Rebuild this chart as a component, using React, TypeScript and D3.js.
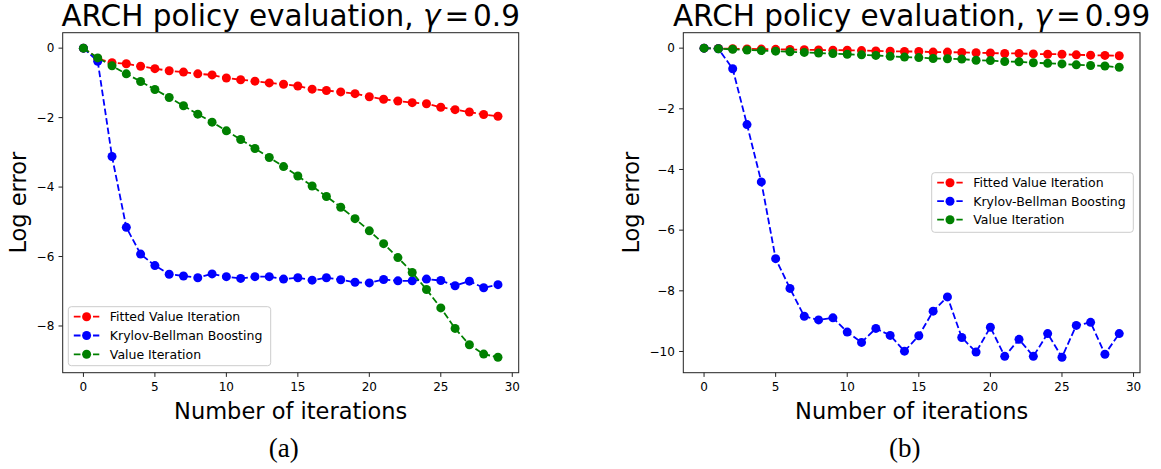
import React from "react";
import * as d3 from "d3";

const iterations = [0,1,2,3,4,5,6,7,8,9,10,11,12,13,14,15,16,17,18,19,20,21,22,23,24,25,26,27,28,29];
const seriesNames = ["Fitted Value Iteration", "Krylov-Bellman Boosting", "Value Iteration"];
const seriesColors = ["#ff0000", "#0000ff", "#008000"];

// Panel (a), gamma = 0.9
const fviA = [0,-0.30,-0.42,-0.45,-0.52,-0.59,-0.65,-0.69,-0.74,-0.77,-0.86,-0.91,-0.95,-1.00,-1.04,-1.09,-1.18,-1.22,-1.26,-1.31,-1.40,-1.47,-1.52,-1.57,-1.60,-1.70,-1.77,-1.84,-1.91,-1.96];
const kbbA = [0,-0.38,-3.12,-5.16,-5.93,-6.26,-6.51,-6.56,-6.61,-6.50,-6.58,-6.63,-6.58,-6.58,-6.65,-6.61,-6.68,-6.61,-6.67,-6.74,-6.76,-6.66,-6.70,-6.70,-6.65,-6.69,-6.84,-6.71,-6.90,-6.81];
const viA = [0,-0.28,-0.51,-0.74,-0.96,-1.19,-1.42,-1.66,-1.90,-2.13,-2.38,-2.63,-2.89,-3.15,-3.41,-3.68,-3.97,-4.27,-4.58,-4.91,-5.26,-5.63,-6.03,-6.46,-6.95,-7.48,-8.07,-8.54,-8.81,-8.90];

// Panel (b), gamma = 0.99
const fviB = [0,-0.01,-0.02,-0.025,-0.03,-0.04,-0.045,-0.05,-0.06,-0.065,-0.07,-0.08,-0.09,-0.10,-0.11,-0.11,-0.13,-0.13,-0.14,-0.15,-0.16,-0.175,-0.175,-0.19,-0.20,-0.20,-0.22,-0.23,-0.24,-0.25];
const kbbB = [0,-0.02,-0.68,-2.52,-4.41,-6.94,-7.92,-8.84,-8.96,-8.89,-9.36,-9.70,-9.24,-9.47,-9.99,-9.48,-8.67,-8.20,-9.54,-10.02,-9.20,-10.16,-9.60,-10.16,-9.41,-10.19,-9.14,-9.04,-10.09,-9.41];
const viB = [0,-0.02,-0.04,-0.06,-0.08,-0.10,-0.12,-0.14,-0.16,-0.18,-0.20,-0.22,-0.24,-0.27,-0.295,-0.31,-0.34,-0.35,-0.36,-0.40,-0.41,-0.44,-0.45,-0.48,-0.50,-0.52,-0.55,-0.57,-0.59,-0.63];

const xTicks = [0,5,10,15,20,25,30];
const yTicksA = [0,-2,-4,-6,-8];
const yTicksB = [0,-2,-4,-6,-8,-10];

const FONT = "DejaVu Sans";

type PanelProps = {
  x0: number; x1: number; y0: number; y1: number;
  data: number[][];
  yTicks: number[];
  gamma: string;
  caption: string;
  ylabelOffset: number;
  legend: { x: number; y: number; w: number; h: number; rowH: number };
};

function fmt(v: number) {
  return v < 0 ? "\u2212" + Math.abs(v) : String(v);
}

function Panel({ x0, x1, y0, y1, data, yTicks, gamma, caption, ylabelOffset, legend }: PanelProps) {
  const xMin = d3.min(iterations)!, xMax = d3.max(iterations)!;
  const xPad = (xMax - xMin) * 0.05;
  const all = data.flat();
  const yMin = d3.min(all)!, yMax = d3.max(all)!;
  const yPad = (yMax - yMin) * 0.05;
  const x = d3.scaleLinear().domain([xMin - xPad, xMax + xPad]).range([x0, x1]);
  const y = d3.scaleLinear().domain([yMin - yPad, yMax + yPad]).range([y1, y0]);
  const line = d3.line<number>().x((_, i) => x(iterations[i])).y((d) => y(d));
  const cx = (x0 + x1) / 2;
  const cy = (y0 + y1) / 2;
  const tickLen = 4.2;
  return (
    <g>
      {data.map((vals, si) => (
        <g key={si}>
          <path d={line(vals) || ""} fill="none" stroke={seriesColors[si]} strokeWidth={1.8} strokeDasharray="6.7,2.9" />
          {vals.map((v, i) => (
            <circle key={i} cx={x(iterations[i])} cy={y(v)} r={4.5} fill={seriesColors[si]} />
          ))}
        </g>
      ))}
      <rect x={x0} y={y0} width={x1 - x0} height={y1 - y0} fill="none" stroke="#222" strokeWidth={1} />
      {xTicks.map((t) => (
        <g key={t}>
          <line x1={x(t)} x2={x(t)} y1={y1} y2={y1 + tickLen} stroke="#222" strokeWidth={1} />
          <text x={x(t)} y={y1 + tickLen + 4.2 + 9.5} textAnchor="middle" fontFamily={FONT} fontSize={12}>{t}</text>
        </g>
      ))}
      {yTicks.map((t) => (
        <g key={t}>
          <line x1={x0 - tickLen} x2={x0} y1={y(t)} y2={y(t)} stroke="#222" strokeWidth={1} />
          <text x={x0 - tickLen - 4.2} y={y(t) + 4.3} textAnchor="end" fontFamily={FONT} fontSize={12}>{fmt(t)}</text>
        </g>
      ))}
      <text x={cx} y={26} textAnchor="middle" fontFamily={FONT} fontSize={29.5}>
        ARCH policy evaluation,{" "}
        <tspan fontStyle="italic">γ</tspan>
        <tspan dx={4}>=</tspan>
        <tspan dx={4}>{gamma}</tspan>
      </text>
      <text x={cx} y={419} textAnchor="middle" fontFamily={FONT} fontSize={22.5}>Number of iterations</text>
      <text transform={`translate(${x0 - ylabelOffset},${cy}) rotate(-90)`} textAnchor="middle" fontFamily={FONT} fontSize={22.5}>Log error</text>
      <text x={cx - 7} y={457} textAnchor="middle" fontFamily="Liberation Serif" fontSize={27}>{caption}</text>
      <rect x={legend.x} y={legend.y} width={legend.w} height={legend.h} rx={3} fill="#fff" fillOpacity={0.8} stroke="#cccccc" strokeWidth={1} />
      {seriesNames.map((name, si) => {
        const ry = legend.y + 10 + si * legend.rowH;
        return (
          <g key={name}>
            <line x1={legend.x + 5.5} x2={legend.x + 31} y1={ry} y2={ry} stroke={seriesColors[si]} strokeWidth={1.8} strokeDasharray="6.7,2.9" />
            <circle cx={legend.x + 18.3} cy={ry} r={4.5} fill={seriesColors[si]} />
            <text x={legend.x + 41.5} y={ry + 4.5} fontFamily={FONT} fontSize={12.5}>{name}</text>
          </g>
        );
      })}
    </g>
  );
}

export default function App() {
  return (
    <svg width={1161} height={469} style={{ position: "absolute", left: 0, top: 0, background: "#fff" }}>
      <rect x={0} y={0} width={1161} height={469} fill="#fff" />
      <Panel x0={62.7} x1={518.7} y0={32.7} y1={372.7} data={[fviA, kbbA, viA]} yTicks={yTicksA} gamma="0.9" caption="(a)"
        ylabelOffset={37} legend={{ x: 68.3, y: 306.7, w: 202.4, h: 59, rowH: 18.8 }} />
      <Panel x0={683.3} x1={1140} y0={32.7} y1={372.7} data={[fviB, kbbB, viB]} yTicks={yTicksB} gamma="0.99" caption="(b)"
        ylabelOffset={44.5} legend={{ x: 931.7, y: 172.7, w: 201.6, h: 59.6, rowH: 18.5 }} />
    </svg>
  );
}
